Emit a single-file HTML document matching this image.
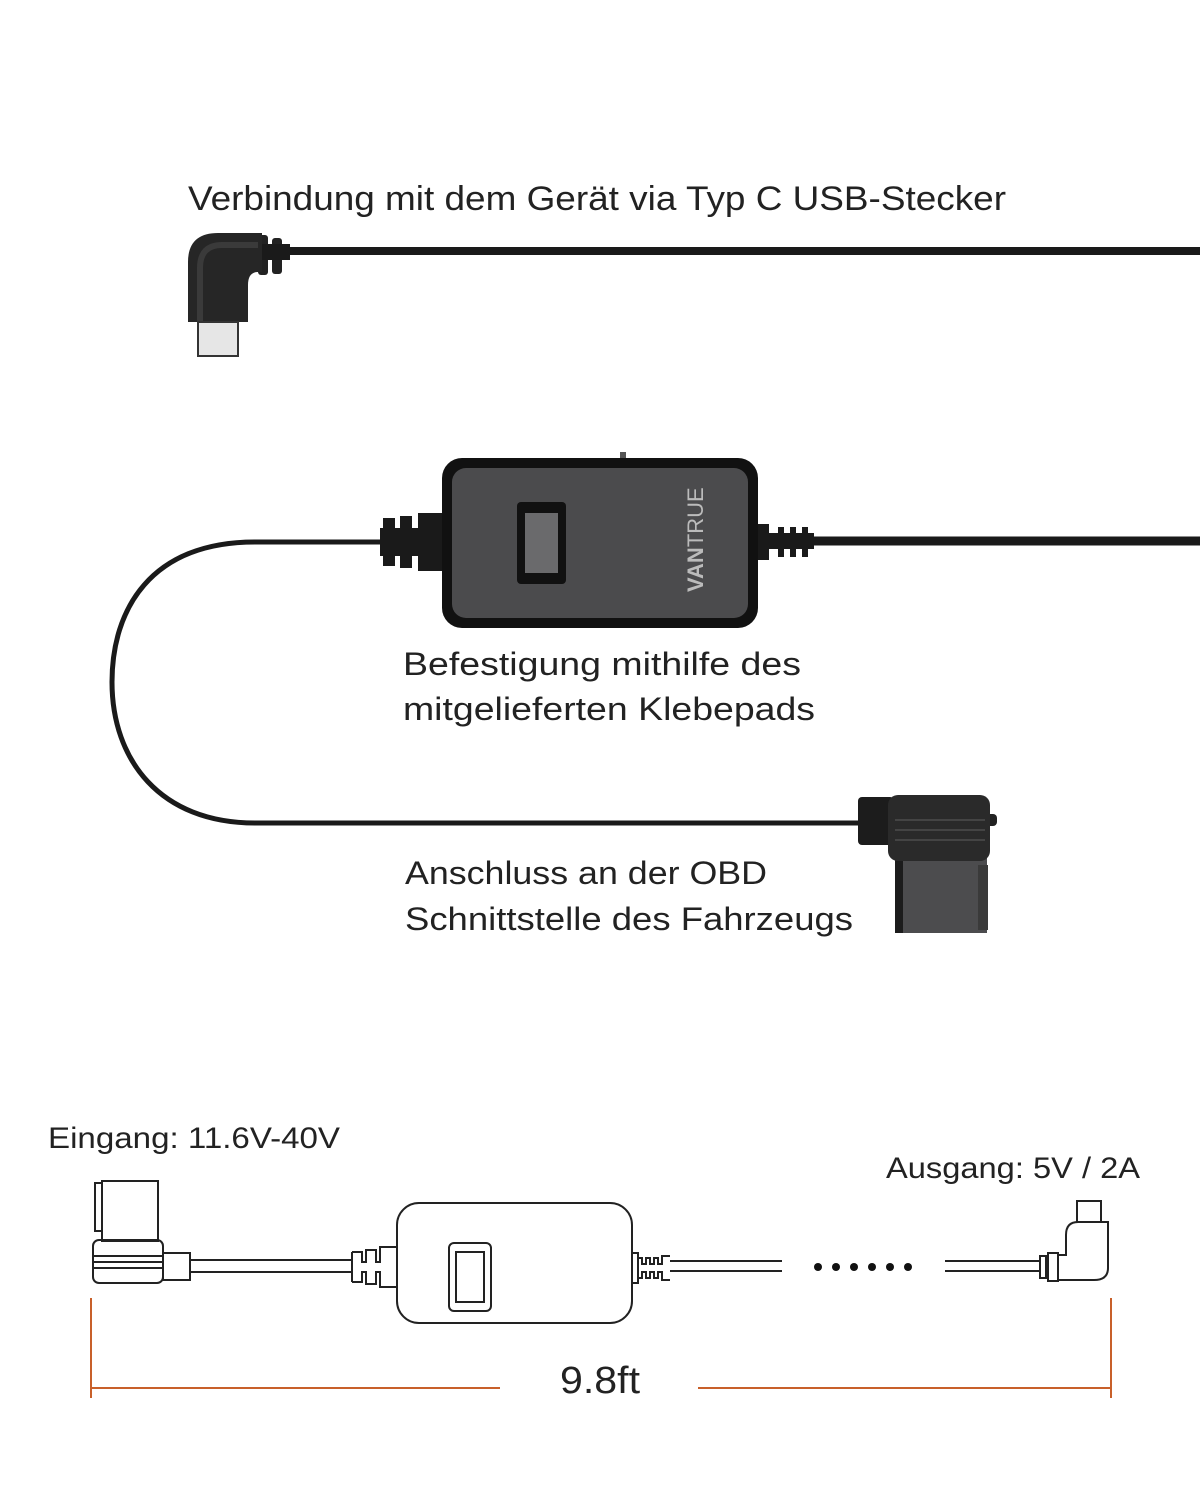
<!DOCTYPE html>
<html><head><meta charset="utf-8"><style>
html,body{margin:0;padding:0;background:#fff;}
svg{display:block;font-family:"Liberation Sans",sans-serif;}
</style></head><body>
<svg width="1200" height="1500" viewBox="0 0 1200 1500" xmlns="http://www.w3.org/2000/svg">
<rect width="1200" height="1500" fill="#fff"/>
<text x="188" y="210" font-size="34" fill="#222" textLength="818" lengthAdjust="spacingAndGlyphs">Verbindung mit dem Gerät via Typ C USB-Stecker</text>

<!-- top USB-C -->
<line x1="285" y1="251" x2="1200" y2="251" stroke="#1a1a1a" stroke-width="8"/>
<rect x="258" y="235" width="10" height="40" rx="3" fill="#222"/>
<rect x="272" y="238" width="10" height="36" rx="3" fill="#222"/>
<rect x="262" y="244" width="28" height="16" fill="#1a1a1a"/>
<path d="M188,322 L188,262 Q188,233 218,233 L262,233 L262,272 L258,272 Q248,272 248,285 L248,322 Z" fill="#262626"/>
<path d="M200,322 L200,268 Q200,245 222,245 L258,245" fill="none" stroke="#3a3a3a" stroke-width="6"/>
<rect x="198" y="322" width="40" height="34" fill="#e6e6e6" stroke="#333" stroke-width="2"/>

<!-- loop cable -->
<path d="M385,542 L255,542 C150,542 112,610 112,682 C112,760 160,823 255,823 L862,823" fill="none" stroke="#1a1a1a" stroke-width="5"/>
<line x1="810" y1="541" x2="1200" y2="541" stroke="#1a1a1a" stroke-width="9"/>
<rect x="380" y="528" width="65" height="28" fill="#1a1a1a"/>
<rect x="383" y="518" width="12" height="48" fill="#1a1a1a"/>
<rect x="400" y="516" width="12" height="52" fill="#1a1a1a"/>
<rect x="418" y="513" width="26" height="58" fill="#1a1a1a"/>
<rect x="755" y="524" width="14" height="36" fill="#1a1a1a"/>
<rect x="769" y="533" width="45" height="16" fill="#1a1a1a"/>
<rect x="778" y="527" width="6" height="30" fill="#1a1a1a"/>
<rect x="790" y="527" width="6" height="30" fill="#1a1a1a"/>
<rect x="802" y="527" width="6" height="30" fill="#1a1a1a"/>
<rect x="620" y="452" width="6" height="8" fill="#555"/>
<rect x="442" y="458" width="316" height="170" rx="20" fill="#111"/>
<rect x="452" y="468" width="296" height="150" rx="14" fill="#4b4b4d"/>
<rect x="517" y="502" width="49" height="82" rx="4" fill="#111"/>
<rect x="525" y="513" width="33" height="60" fill="#6a6a6c"/>
<text x="0" y="0" font-size="22" fill="#bbb" transform="translate(703,592) rotate(-90)"><tspan font-weight="bold">VAN</tspan>TRUE</text>

<text x="403" y="675" font-size="32" fill="#222" textLength="398" lengthAdjust="spacingAndGlyphs">Befestigung mithilfe des</text>
<text x="403" y="720" font-size="32" fill="#222" textLength="412" lengthAdjust="spacingAndGlyphs">mitgelieferten Klebepads</text>

<!-- OBD connector -->
<rect x="858" y="797" width="36" height="48" rx="4" fill="#1c1c1c"/>
<rect x="985" y="814" width="12" height="12" rx="4" fill="#222"/>
<rect x="895" y="855" width="92" height="78" fill="#4c4c4e"/>
<rect x="895" y="855" width="8" height="78" fill="#1c1c1c"/>
<rect x="978" y="865" width="10" height="65" fill="#3a3a3a"/>
<rect x="888" y="795" width="102" height="66" rx="10" fill="#2a2a2a"/>
<line x1="895" y1="820" x2="985" y2="820" stroke="#444" stroke-width="2"/>
<line x1="895" y1="830" x2="985" y2="830" stroke="#444" stroke-width="2"/>
<line x1="895" y1="840" x2="985" y2="840" stroke="#444" stroke-width="2"/>

<text x="405" y="884" font-size="32" fill="#222" textLength="362" lengthAdjust="spacingAndGlyphs">Anschluss an der OBD</text>
<text x="405" y="930" font-size="32" fill="#222" textLength="448" lengthAdjust="spacingAndGlyphs">Schnittstelle des Fahrzeugs</text>

<text x="48" y="1148" font-size="30" fill="#222" textLength="292" lengthAdjust="spacingAndGlyphs">Eingang: 11.6V-40V</text>
<text x="886" y="1178" font-size="30" fill="#222" textLength="254" lengthAdjust="spacingAndGlyphs">Ausgang: 5V / 2A</text>

<g fill="none" stroke="#222" stroke-width="2">
 <rect x="95" y="1183" width="7" height="48"/>
 <rect x="102" y="1181" width="56" height="60"/>
 <rect x="93" y="1240" width="70" height="43" rx="6"/>
 <line x1="93" y1="1256" x2="163" y2="1256"/>
 <line x1="93" y1="1262" x2="163" y2="1262"/>
 <line x1="93" y1="1268" x2="163" y2="1268"/>
 <rect x="163" y="1253" width="27" height="27"/>
 <line x1="190" y1="1260" x2="352" y2="1260"/>
 <line x1="190" y1="1272" x2="352" y2="1272"/>
 <path d="M352,1252 L362,1252 L362,1262 L366,1262 L366,1250 L376,1250 L376,1262 L380,1262 L380,1247 L397,1247 M352,1282 L362,1282 L362,1272 L366,1272 L366,1284 L376,1284 L376,1272 L380,1272 L380,1287 L397,1287 M352,1252 L352,1282"/>
 <rect x="397" y="1203" width="235" height="120" rx="22"/>
 <rect x="449" y="1243" width="42" height="68" rx="5"/>
 <rect x="456" y="1252" width="28" height="50"/>
 <rect x="632" y="1253" width="6" height="30"/>
 <path d="M638,1258 L642,1258 L642,1264 L646,1264 L646,1258 L650,1258 L650,1264 L654,1264 L654,1258 L658,1258 L658,1264 L662,1264 L662,1256 L670,1256 M638,1278 L642,1278 L642,1272 L646,1272 L646,1278 L650,1278 L650,1272 L654,1272 L654,1278 L658,1278 L658,1272 L662,1272 L662,1280 L670,1280"/>
 <line x1="670" y1="1261" x2="782" y2="1261"/>
 <line x1="670" y1="1271" x2="782" y2="1271"/>
 <line x1="945" y1="1261" x2="1040" y2="1261"/>
 <line x1="945" y1="1271" x2="1040" y2="1271"/>
 <path d="M1040,1256 L1046,1256 L1046,1278 L1040,1278 Z"/>
 <rect x="1048" y="1253" width="10" height="28"/>
 <path d="M1058,1255 L1066,1255 L1066,1235 Q1066,1222 1078,1222 L1108,1222 L1108,1268 Q1108,1280 1094,1280 L1058,1280"/>
 <rect x="1077" y="1201" width="24" height="21"/>
</g>
<g fill="#111">
 <circle cx="818" cy="1267" r="4"/><circle cx="836" cy="1267" r="4"/><circle cx="854" cy="1267" r="4"/>
 <circle cx="872" cy="1267" r="4"/><circle cx="890" cy="1267" r="4"/><circle cx="908" cy="1267" r="4"/>
</g>

<g stroke="#c8602a" stroke-width="2">
 <line x1="91" y1="1298" x2="91" y2="1398"/>
 <line x1="1111" y1="1298" x2="1111" y2="1398"/>
 <line x1="91" y1="1388" x2="500" y2="1388"/>
 <line x1="698" y1="1388" x2="1111" y2="1388"/>
</g>
<text x="600" y="1393" font-size="38" fill="#222" text-anchor="middle" textLength="80" lengthAdjust="spacingAndGlyphs">9.8ft</text>
</svg>
</body></html>
